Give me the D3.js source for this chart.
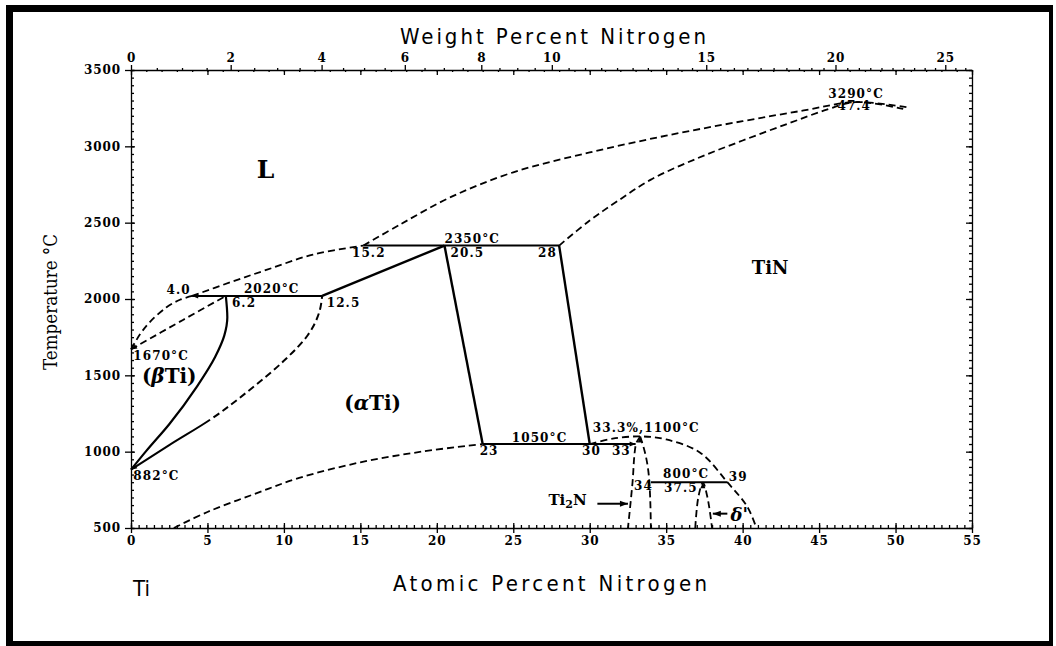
<!DOCTYPE html>
<html>
<head>
<meta charset="utf-8">
<script src="https://cdn.jsdelivr.net/npm/d3@7"></script>
<style>
  html, body { margin: 0; padding: 0; background: #fff; }
  svg { display: block; }
  .num { font-family: "DejaVu Serif", serif; font-weight: bold; font-size: 12px; letter-spacing: 1.1px; fill: #000; }
  .axis text { font-family: "DejaVu Serif", serif; font-weight: bold; font-size: 12px; letter-spacing: 0.9px; fill: #000; }
  .axis line, .axis path { stroke: #000; stroke-width: 1.3px; }
  .title { font-family: "Liberation Sans Narrow", "DejaVu Sans Condensed", sans-serif; font-size: 22px; fill: #000; }
  .region { font-family: "DejaVu Serif", serif; font-weight: bold; fill: #000; }
</style>
</head>
<body>
<svg id="chart" width="1056" height="646"></svg>
<script>
// ---- axis ticks ----
const atomicTicks = [0, 5, 10, 15, 20, 25, 30, 35, 40, 45, 50, 55];
const temperatureTicks = [500, 1000, 1500, 2000, 2500, 3000, 3500];
const weightTicks = [0, 2, 4, 6, 8, 10, 15, 20, 25];

// ---- phase boundaries, [atomic % N, temperature °C] ----
const liquidusLow = [[0, 1670], [0.6, 1770], [1.2, 1846], [2.3, 1944], [3.2, 1995], [4.0, 2020]];
const liquidusMid = [[4.0, 2020], [6.5, 2110], [8.9, 2192], [11.9, 2291], [15.2, 2350]];
const liquidusHigh = [[15.2, 2350], [17.6, 2488], [20.9, 2667], [25, 2830], [30, 2960], [35, 3070], [40, 3165], [44, 3235], [47.4, 3290], [50.8, 3255]];
const betaSolidus = [[0, 1670], [3.4, 1863], [6.2, 2020]];
const betaSolvus = [[0, 882], [1.0, 1005], [2.5, 1180], [4.3, 1425], [5.5, 1620], [6.1, 1760], [6.3, 1880], [6.2, 2020]];
const alphaSolvus = [[0, 882], [2.55, 1046], [5.17, 1209], [7.78, 1406], [10.07, 1602], [11.58, 1766], [12.3, 1910], [12.5, 2020]];
const alphaSolvusSolidTo = 5.17;   // drawn solid up to this composition, dashed above
const tinSolidus = [[28, 2350], [30, 2514], [31.8, 2640], [34, 2782], [37, 2920], [40, 3038], [43, 3150], [45.5, 3240], [47.4, 3290], [50.5, 3245]];
const alphaLowSolvus = [[2.8, 500], [5, 605], [8, 720], [11, 828], [15, 930], [19, 1000], [23, 1050]];
const tinLowBoundary = [[30, 1050], [31.5, 1085], [33.3, 1100], [35, 1080], [37.2, 995], [39, 800], [40.3, 640], [40.9, 500]];
const ti2nLeft = [[33.3, 1100], [33.0, 1040], [32.8, 800], [32.5, 500]];
const ti2nRight = [[33.3, 1100], [33.6, 1000], [33.9, 800], [34, 500]];
const deltaPrime = [[36.9, 500], [37.1, 700], [37.4, 797], [37.7, 700], [38, 500]];

// straight solid boundaries
const solidSegments = [
  [[12.5, 2020], [20.5, 2350]],
  [[20.5, 2350], [23, 1050]],
  [[28, 2350], [30, 1050]]
];
// invariant isotherms: [from at%, to at%, °C]
const isotherms = [[4.0, 12.5, 2020], [15.2, 28, 2350], [23, 33, 1050], [34, 39, 800]];

// small arrowheads on the boundaries: [at%, °C, direction in degrees]
const boundaryHeads = [[0, 1670, 210], [0, 882, 215], [4.0, 2020, 180], [33.3, 1100, 90], [33.0, 1050, 0], [37.4, 800, 90]];

// point annotations, [text, at%, °C, anchor]
const pointLabels = [
  ["4.0", 3.9, 2034, "end"],
  ["2020°C", 9.2, 2038, "middle"],
  ["6.2", 6.6, 1950, "start"],
  ["12.5", 12.8, 1950, "start"],
  ["15.2", 14.45, 2278, "start"],
  ["2350°C", 20.5, 2370, "start"],
  ["20.5", 20.9, 2278, "start"],
  ["28", 27.85, 2278, "end"],
  ["1050°C", 24.9, 1066, "start"],
  ["23", 22.8, 980, "start"],
  ["30", 29.5, 980, "start"],
  ["33", 31.45, 980, "start"],
  ["33.3%,1100°C", 30.2, 1131, "start"],
  ["800°C", 34.8, 829, "start"],
  ["37.5", 34.86, 738, "start"],
  ["34", 32.9, 751, "start"],
  ["39", 39.1, 808, "start"],
  ["3290°C", 45.6, 3318, "start"],
  ["47.4", 46.2, 3240, "start"],
  ["1670°C", 0.15, 1603, "start"],
  ["882°C", 0.15, 816, "start"]
];

const svg = d3.select("#chart");
const x = d3.scaleLinear().domain([0, 55]).range([131, 972]);
const y = d3.scaleLinear().domain([500, 3500]).range([528, 70]);

// weight % -> atomic % conversion (Ti 47.867, N 14.007)
const MN = 14.007, MTI = 47.867;
const wtToAt = w => 100 * (w / MN) / (w / MN + (100 - w) / MTI);

// ---- frame ----
svg.append("rect").attr("x", 0).attr("y", 0).attr("width", 1056).attr("height", 646).attr("fill", "#fff");
const frame = svg.append("g").attr("fill", "#000");
frame.append("rect").attr("x", 6).attr("y", 5).attr("width", 7).attr("height", 641);
frame.append("rect").attr("x", 6).attr("y", 5).attr("width", 1047).attr("height", 7);
frame.append("rect").attr("x", 1049).attr("y", 5).attr("width", 4).attr("height", 641);
frame.append("rect").attr("x", 6).attr("y", 641).attr("width", 1047).attr("height", 5);

// ---- axes ----
const minorAt = d3.range(0, 55.01, 0.5);
const minorAtTop = d3.range(0, 55.01, 1);
const minorT = d3.range(500, 3501, 50);
const minorWt = d3.range(0, 26.01, 0.5).filter(w => !weightTicks.includes(w));

// bottom
const gB = svg.append("g").attr("class", "axis").attr("transform", `translate(0,${y(500)})`);
gB.call(d3.axisBottom(x).tickValues(atomicTicks).tickSize(5).tickSizeOuter(0).tickPadding(3).tickFormat(d3.format("d")));
gB.append("g").call(d3.axisTop(x).tickValues(minorAt).tickSize(3).tickFormat("")).select(".domain").remove();
gB.append("g").call(d3.axisTop(x).tickValues(atomicTicks).tickSize(5).tickFormat("")).select(".domain").remove();

// left
const gL = svg.append("g").attr("class", "axis").attr("transform", `translate(${x(0)},0)`);
gL.call(d3.axisLeft(y).tickValues(temperatureTicks).tickSize(6).tickSizeOuter(0).tickPadding(4).tickFormat(d3.format("d")));
gL.append("g").call(d3.axisRight(y).tickValues(minorT).tickSize(3).tickFormat("")).select(".domain").remove();
gL.append("g").call(d3.axisRight(y).tickValues(temperatureTicks).tickSize(4).tickFormat("")).select(".domain").remove();

// right
const gR = svg.append("g").attr("class", "axis").attr("transform", `translate(${x(55)},0)`);
gR.call(d3.axisLeft(y).tickValues(minorT).tickSize(3).tickSizeOuter(0).tickFormat(""));
gR.append("g").call(d3.axisLeft(y).tickValues(temperatureTicks).tickSize(6).tickFormat("")).select(".domain").remove();

// top: weight percent above, atomic percent ticks below the line
const gT = svg.append("g").attr("class", "axis").attr("transform", `translate(0,${y(3500)})`);
gT.call(d3.axisTop(x).tickValues(weightTicks.map(wtToAt)).tickSize(5).tickSizeOuter(0).tickPadding(3)
  .tickFormat((d, i) => String(weightTicks[i])));
gT.append("g").call(d3.axisTop(x).tickValues(minorWt.map(wtToAt)).tickSize(2).tickFormat("")).select(".domain").remove();
gT.append("g").call(d3.axisBottom(x).tickValues(minorAtTop).tickSize(2).tickFormat("")).select(".domain").remove();
gT.append("g").call(d3.axisBottom(x).tickValues(atomicTicks).tickSize(5).tickFormat("")).select(".domain").remove();

// ---- titles ----
svg.append("text").attr("class", "title").attr("x", 553).attr("y", 44).attr("text-anchor", "middle")
  .attr("textLength", 306).attr("lengthAdjust", "spacing").text("Weight Percent Nitrogen");
svg.append("text").attr("class", "title").attr("x", 550).attr("y", 591).attr("text-anchor", "middle")
  .attr("textLength", 314).attr("lengthAdjust", "spacing").text("Atomic Percent Nitrogen");
svg.append("text").attr("class", "title").attr("x", 133).attr("y", 596).text("Ti");
svg.append("text").attr("transform", "translate(57,302) rotate(-90)").attr("text-anchor", "middle")
  .attr("font-family", "DejaVu Serif, serif").attr("font-size", 18).attr("textLength", 136)
  .attr("lengthAdjust", "spacingAndGlyphs").text("Temperature °C");

// ---- boundaries ----
const smooth = d3.line().x(d => x(d[0])).y(d => y(d[1])).curve(d3.curveCatmullRom.alpha(0.5));
const smoothY = d3.line().x(d => x(d[0])).y(d => y(d[1])).curve(d3.curveMonotoneY);
const straight = d3.line().x(d => x(d[0])).y(d => y(d[1]));
const plot = svg.append("g").attr("fill", "none").attr("stroke", "#000").attr("stroke-linecap", "butt");
const DASH = "7,4";

const dashedSmooth = [liquidusLow, liquidusMid, liquidusHigh, betaSolidus, tinSolidus, alphaLowSolvus, tinLowBoundary, deltaPrime];
plot.selectAll("path.dash").data(dashedSmooth).join("path").attr("class", "dash")
  .attr("d", smooth).attr("stroke-width", 1.8).attr("stroke-dasharray", DASH);
plot.selectAll("path.dashy").data([ti2nLeft, ti2nRight]).join("path").attr("class", "dashy")
  .attr("d", smoothY).attr("stroke-width", 1.8).attr("stroke-dasharray", DASH);

plot.append("path").datum(betaSolvus).attr("d", smoothY).attr("stroke-width", 2.2);

// alpha solvus: solid near pure Ti, dashed above
const alphaPath = plot.append("path").datum(alphaSolvus).attr("d", smoothY).attr("stroke-width", 2);
const probe = plot.append("path").datum(alphaSolvus.filter(d => d[0] <= alphaSolvusSolidTo)).attr("d", smoothY);
const solidLen = probe.node().getTotalLength();
probe.remove();
const totalLen = alphaPath.node().getTotalLength();
const pattern = [solidLen];
for (let s = solidLen; s < totalLen + 20; s += 11) pattern.push(4, 7);
pattern.push(4);
alphaPath.attr("stroke-dasharray", pattern.join(","));

plot.selectAll("path.solids").data(solidSegments).join("path").attr("class", "solids")
  .attr("d", straight).attr("stroke-width", 2.4);
plot.selectAll("line.iso").data(isotherms).join("line").attr("class", "iso")
  .attr("x1", d => x(d[0])).attr("x2", d => x(d[1])).attr("y1", d => y(d[2])).attr("y2", d => y(d[2]))
  .attr("stroke-width", 2);

// arrowheads
const head = (px, py, deg, len = 7, half = 3) => {
  const r = deg * Math.PI / 180, c = Math.cos(r), s = Math.sin(r);
  const bx = px - len * c, by = py + len * s;
  return `M${px},${py}L${bx - half * s},${by - half * c}L${bx + half * s},${by + half * c}Z`;
};
svg.append("g").selectAll("path").data(boundaryHeads).join("path")
  .attr("d", d => head(x(d[0]), y(d[1]), d[2], 6, 2.5)).attr("fill", "#000");

// ---- point labels ----
svg.append("g").selectAll("text").data(pointLabels).join("text").attr("class", "num")
  .attr("x", d => x(d[1])).attr("y", d => y(d[2])).attr("text-anchor", d => d[3]).text(d => d[0]);

// ---- region labels ----
svg.append("text").attr("class", "region").attr("x", x(8.8)).attr("y", y(2794)).attr("text-anchor", "middle")
  .attr("font-size", 25).text("L");
svg.append("text").attr("class", "region").attr("x", x(41.8)).attr("y", y(2166)).attr("text-anchor", "middle")
  .attr("font-size", 18).attr("font-weight", "normal").text("TiN");
const beta = svg.append("text").attr("class", "region").attr("x", x(2.5)).attr("y", y(1452)).attr("text-anchor", "middle")
  .attr("font-size", 20);
beta.append("tspan").text("(");
beta.append("tspan").attr("font-style", "italic").text("β");
beta.append("tspan").text("Ti)");
const alpha = svg.append("text").attr("class", "region").attr("x", x(15.8)).attr("y", y(1276)).attr("text-anchor", "middle")
  .attr("font-size", 20).attr("font-weight", "normal");
alpha.append("tspan").text("(");
alpha.append("tspan").attr("font-style", "italic").text("α");
alpha.append("tspan").text("Ti)");

const ti2n = svg.append("text").attr("class", "region").attr("x", x(29.8)).attr("y", y(652)).attr("text-anchor", "end")
  .attr("font-size", 15);
ti2n.append("tspan").text("Ti");
ti2n.append("tspan").attr("font-size", 11).attr("dy", 3).text("2");
ti2n.append("tspan").attr("dy", -3).text("N");
svg.append("text").attr("class", "region").attr("x", x(39.2)).attr("y", y(547)).attr("font-size", 18)
  .attr("font-style", "italic").attr("font-weight", "normal").text("δ'");

// pointer arrows to the narrow phase fields
const pointers = [[30.5, 32.5, 659, 0], [39.0, 38.05, 594, 180]];
const ptr = svg.append("g");
ptr.selectAll("line").data(pointers).join("line")
  .attr("x1", d => x(d[0])).attr("x2", d => x(d[1])).attr("y1", d => y(d[2])).attr("y2", d => y(d[2]))
  .attr("stroke", "#000").attr("stroke-width", 2);
ptr.selectAll("path").data(pointers).join("path")
  .attr("d", d => head(x(d[1]), y(d[2]), d[3], 8, 3)).attr("fill", "#000");
</script>
</body>
</html>
